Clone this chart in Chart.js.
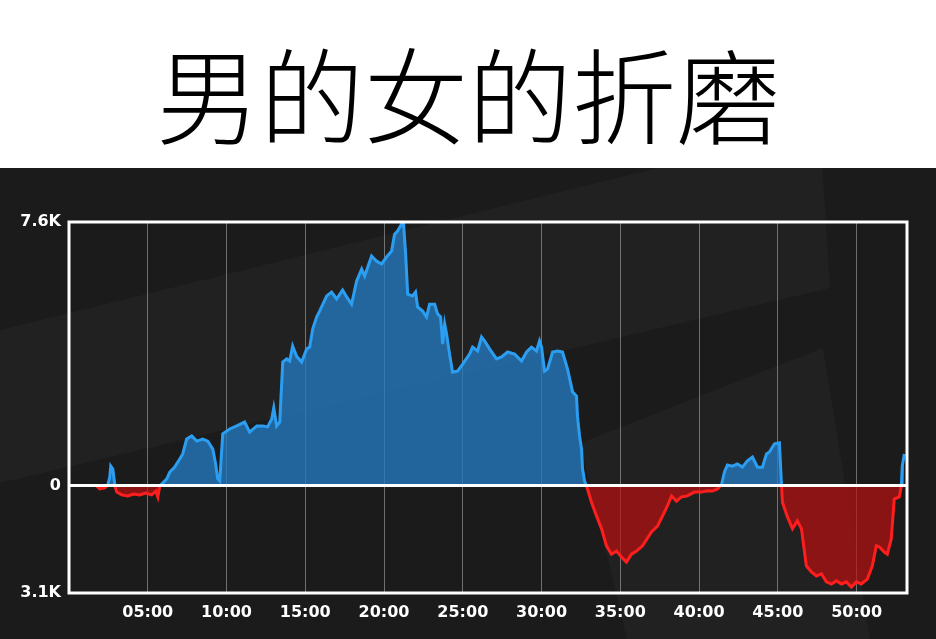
<!DOCTYPE html>
<html lang="zh">
<head>
<meta charset="utf-8">
<title>男的女的折磨</title>
<script src="https://cdn.jsdelivr.net/npm/chart.js@4.4.1/dist/chart.umd.min.js"></script>
<style>
  html, body { margin: 0; padding: 0; background: #fff; }
  #page { position: relative; width: 936px; height: 639px; overflow: hidden; background: #fff; }
  #title {
    position: absolute; left: 0; top: 8px; width: 936px; height: 168px;
    display: flex; align-items: center; justify-content: center;
    font-family: "Noto Sans CJK SC", sans-serif; font-weight: 300;
    font-size: 104px; line-height: 1; color: #000;
  }
  #panel { position: absolute; left: 0; top: 168px; width: 936px; height: 471px; background: #1c1b1c; overflow: hidden; }
  .shade { position: absolute; left: 0; top: 0; width: 936px; height: 471px; background: rgba(255,255,255,0.028); }
  #shadeA { clip-path: polygon(0 162px, 820px -40px, 830px 120px, 0 315px); }
  #shadeB { clip-path: polygon(580px 275px, 823px 180px, 870px 471px, 627px 471px); }
  #chartBox { position: absolute; left: 0; top: 0; width: 936px; height: 471px; }
</style>
</head>
<body>
<div id="page">
  <div id="title">男的女的折磨</div>
  <div id="panel">
    <div class="shade" id="shadeA"></div>
    <div class="shade" id="shadeB"></div>
    <div id="chartBox"><canvas id="goldChart"></canvas></div>
  </div>
</div>
<script>
// game time in minutes
const minutes = [
  1.70, 1.95, 2.27, 2.46, 2.59, 2.65, 2.78, 2.91, 3.03, 3.35,
  3.73, 4.11, 4.49, 4.87, 5.25, 5.51, 5.64, 5.76, 5.95, 6.21,
  6.40, 6.71, 7.03, 7.22, 7.47, 7.79, 8.11, 8.49, 8.81, 9.13,
  9.31, 9.44, 9.57, 9.76, 10.20, 10.65, 11.15, 11.47, 11.92, 12.30,
  12.61, 12.87, 13.00, 13.18, 13.38, 13.57, 13.82, 14.01, 14.20, 14.45,
  14.77, 15.09, 15.28, 15.47, 15.72, 15.91, 16.36, 16.67, 16.99, 17.37,
  17.63, 17.94, 18.26, 18.58, 18.77, 19.21, 19.53, 19.85, 20.16, 20.48,
  20.67, 20.86, 21.12, 21.24, 21.37, 21.50, 21.81, 22.00, 22.13, 22.45,
  22.70, 22.89, 23.21, 23.40, 23.59, 23.72, 23.85, 23.97, 24.16, 24.35,
  24.67, 24.99, 25.43, 25.62, 25.94, 26.19, 26.38, 26.70, 27.14, 27.46,
  27.84, 28.29, 28.73, 29.05, 29.36, 29.68, 29.87, 30.00, 30.19, 30.38,
  30.70, 31.02, 31.33, 31.65, 31.97, 32.22, 32.28, 32.41, 32.54, 32.60,
  32.73, 32.92, 33.17, 33.49, 33.81, 34.12, 34.44, 34.76, 35.07, 35.39,
  35.71, 36.03, 36.41, 36.98, 37.36, 37.68, 37.99, 38.25, 38.57, 38.88,
  39.26, 39.71, 40.15, 40.47, 40.85, 41.17, 41.42, 41.61, 41.80, 42.12,
  42.43, 42.75, 43.07, 43.39, 43.71, 44.02, 44.28, 44.47, 44.66, 44.79,
  45.10, 45.23, 45.29, 45.61, 45.93, 46.24, 46.50, 46.81, 47.13, 47.45,
  47.77, 48.08, 48.40, 48.72, 49.04, 49.35, 49.67, 49.99, 50.30, 50.68,
  51.00, 51.25, 51.44, 51.76, 51.95, 52.20, 52.39, 52.71, 52.84, 52.90,
  53.03
];

// gold difference (positive = blue side ahead)
const goldDiff = [
  10, -100, -70, 10, 245, 560, 475, 10, -190, -270,
  -300, -245, -270, -215, -270, -160, -330, -15, 70, 190,
  390, 530, 765, 910, 1340, 1430, 1280, 1340, 1280, 1050,
  620, 190, 130, 1490, 1630, 1720, 1830, 1540, 1720, 1720,
  1690, 1920, 2240, 1720, 1830, 3560, 3650, 3590, 4020, 3730,
  3560, 3940, 3990, 4510, 4860, 5030, 5470, 5580, 5380, 5640,
  5440, 5230, 5900, 6240, 6040, 6620, 6470, 6390, 6590, 6760,
  7250, 7340, 7540, 7540, 6680, 5520, 5470, 5580, 5150, 5030,
  4860, 5230, 5230, 4950, 4860, 4080, 4660, 4370, 3790, 3270,
  3300, 3500, 3790, 3990, 3880, 4280, 4170, 3940, 3650, 3710,
  3850, 3790, 3590, 3850, 3990, 3880, 4170, 3990, 3300, 3360,
  3850, 3880, 3850, 3360, 2700, 2580, 2000, 1430, 1050, 480,
  130, -100, -480, -880, -1250, -1740, -1980, -1890, -2060, -2210,
  -1980, -1890, -1740, -1340, -1170, -880, -590, -300, -450, -330,
  -300, -190, -190, -160, -160, -100, 15, 390, 590, 560,
  620, 530, 710, 820, 530, 530, 910, 970, 1110, 1200,
  1230, 40, -480, -910, -1250, -1020, -1250, -2320, -2490, -2610,
  -2550, -2780, -2840, -2750, -2840, -2780, -2930, -2780, -2840, -2700,
  -2320, -1740, -1770, -1920, -1980, -1540, -390, -330, -15, 560,
  910
];

const xTickMinutes = [5, 10, 15, 20, 25, 30, 35, 40, 45, 50];
const xTickLabels = ['05:00', '10:00', '15:00', '20:00', '25:00', '30:00', '35:00', '40:00', '45:00', '50:00'];
const yTickValues = [-3100, 0, 7600];
const yTickLabels = ['3.1K', '0', '7.6K'];

const BLUE_LINE = '#2b9ef2';
const RED_LINE = '#ff1e1e';
const BLUE_FILL = 'rgba(34, 122, 192, 0.78)';
const RED_FILL = 'rgba(185, 16, 16, 0.7)';

const labelFont = { family: 'DejaVu Sans', weight: 'bold', size: 16 };

// line colour switches at the zero line
function splitColor(context) {
    const chart = context.chart;
    const area = chart.chartArea;
    if (!area) return BLUE_LINE;
    const zero = chart.scales.y.getPixelForValue(0);
    const stop = Math.min(1, Math.max(0, (zero - area.top) / (area.bottom - area.top)));
    const g = chart.ctx.createLinearGradient(0, area.top, 0, area.bottom);
    g.addColorStop(0, BLUE_LINE);
    g.addColorStop(stop, BLUE_LINE);
    g.addColorStop(stop, RED_LINE);
    g.addColorStop(1, RED_LINE);
    return g;
}

// white frame + zero line on top of the areas
const framePlugin = {
    id: 'frame',
    afterDatasetsDraw(chart) {
        const { ctx, chartArea: a, scales } = chart;
        const zero = scales.y.getPixelForValue(0);
        ctx.save();
        ctx.strokeStyle = '#ffffff';
        ctx.lineWidth = 3;
        ctx.beginPath();
        ctx.moveTo(a.left, zero);
        ctx.lineTo(a.right, zero);
        ctx.stroke();
        ctx.strokeRect(a.left, a.top, a.right - a.left, a.bottom - a.top);
        ctx.restore();
    }
};

const points = minutes.map((m, i) => ({ x: m, y: goldDiff[i] }));

new Chart(document.getElementById('goldChart'), {
    type: 'line',
    data: {
        datasets: [{
            data: points,
            borderColor: splitColor,
            borderWidth: 3,
            pointRadius: 0,
            tension: 0,
            fill: { target: 'origin', above: BLUE_FILL, below: RED_FILL }
        }]
    },
    options: {
        responsive: true,
        maintainAspectRatio: false,
        animation: false,
        layout: { padding: { top: 54, right: 29, left: 0, bottom: 0 } },
        plugins: {
            legend: { display: false },
            tooltip: { enabled: false }
        },
        scales: {
            x: {
                type: 'linear',
                min: 0,
                max: 53.2,
                afterBuildTicks: (scale) => { scale.ticks = xTickMinutes.map(v => ({ value: v })); },
                afterFit: (scale) => { scale.height = 46; },
                ticks: {
                    color: '#ffffff',
                    font: labelFont,
                    padding: 10,
                    maxRotation: 0,
                    autoSkip: false,
                    callback: (value, index) => xTickLabels[index]
                },
                grid: { color: 'rgba(215, 215, 215, 0.45)', lineWidth: 1, drawTicks: false },
                border: { display: false }
            },
            y: {
                min: -3100,
                max: 7600,
                afterBuildTicks: (scale) => { scale.ticks = yTickValues.map(v => ({ value: v })); },
                afterFit: (scale) => { scale.width = 69; },
                ticks: {
                    color: '#ffffff',
                    font: labelFont,
                    padding: 8,
                    callback: (value, index) => yTickLabels[index]
                },
                grid: { display: false, drawTicks: false },
                border: { display: false }
            }
        }
    },
    plugins: [framePlugin]
});
</script>
</body>
</html>
